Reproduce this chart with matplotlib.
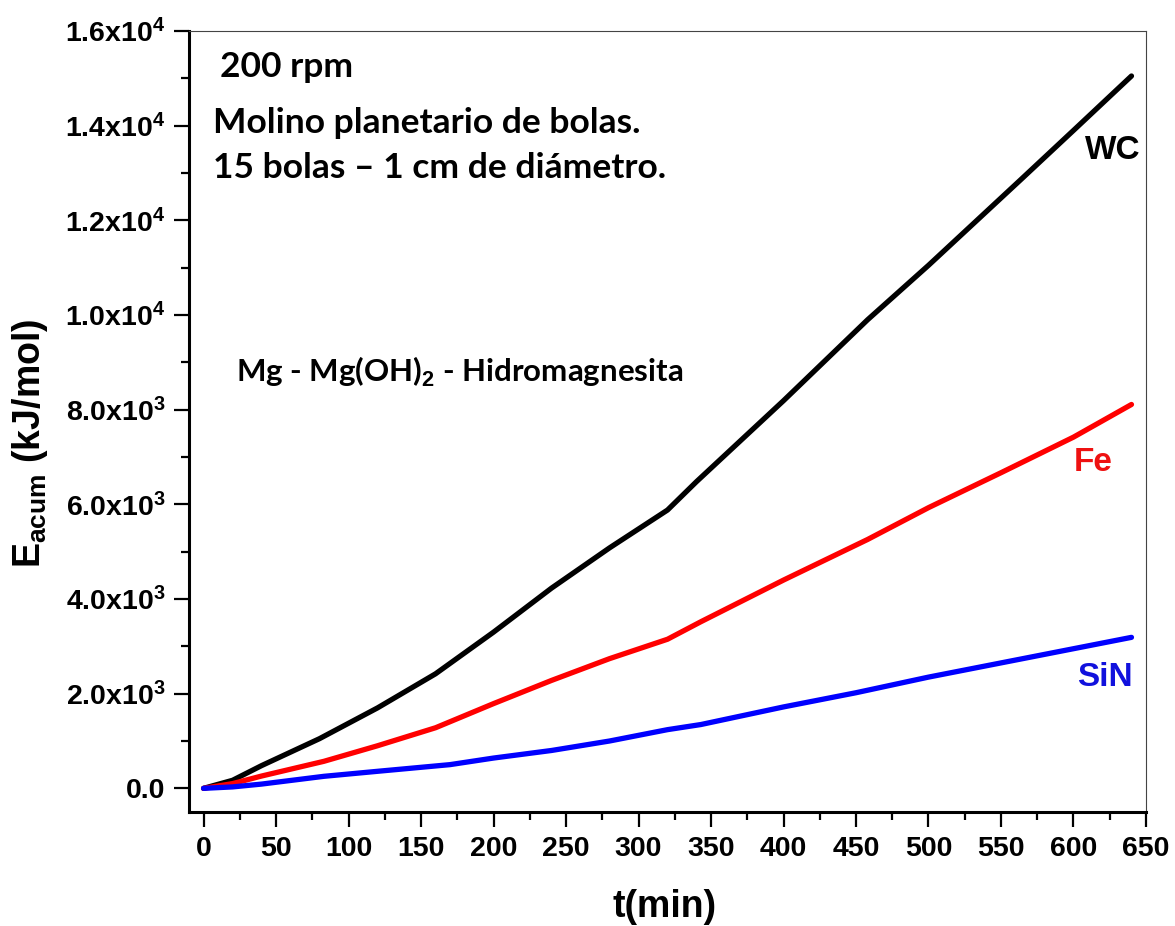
import matplotlib
matplotlib.use("Agg")
import matplotlib.pyplot as plt
from matplotlib.ticker import MultipleLocator, FuncFormatter

# ---------------------------------------------
# datos: energia acumulada vs tiempo de molienda
# ---------------------------------------------
t_wc = [0, 20, 40, 80, 120, 160, 200, 240, 280, 320, 340, 400, 458, 500, 564, 600, 640]
e_wc = [0, 170, 480, 1050, 1700, 2420, 3300, 4230, 5080, 5880, 6480, 8190, 9900, 11050, 12870, 13900, 15050]

t_fe = [0, 20, 40, 83, 120, 160, 200, 240, 280, 320, 343, 400, 458, 500, 550, 600, 640]
e_fe = [0, 100, 260, 571, 900, 1280, 1790, 2280, 2740, 3150, 3520, 4400, 5258, 5930, 6668, 7420, 8110]

t_sin = [0, 20, 40, 83, 120, 170, 200, 240, 280, 320, 343, 400, 450, 500, 550, 600, 640]
e_sin = [0, 30, 90, 254, 360, 501, 640, 800, 1000, 1240, 1348, 1720, 2020, 2350, 2650, 2950, 3190]

plt.rcParams['font.family'] = ['Liberation Sans', 'DejaVu Sans']
plt.rcParams['font.weight'] = 'bold'
plt.rcParams['mathtext.fontset'] = 'custom'
plt.rcParams['mathtext.rm'] = 'Liberation Sans:bold'
plt.rcParams['mathtext.it'] = 'Liberation Sans:bold'
plt.rcParams['mathtext.bf'] = 'Liberation Sans:bold'

fig = plt.figure(figsize=(11.75, 9.26), dpi=100)
ax = fig.add_axes([0.1609, 0.1231, 0.8144, 0.8434])

ax.plot(t_wc, e_wc, color='black', lw=3.8, solid_capstyle='round', solid_joinstyle='round')
ax.plot(t_fe, e_fe, color='#ff0000', lw=3.8, solid_capstyle='round', solid_joinstyle='round')
ax.plot(t_sin, e_sin, color='#0000ff', lw=3.8, solid_capstyle='round', solid_joinstyle='round')

ax.set_xlim(-10, 650)
ax.set_ylim(-500, 16000)

ax.xaxis.set_major_locator(MultipleLocator(50))
ax.xaxis.set_minor_locator(MultipleLocator(25))
ax.yaxis.set_major_locator(MultipleLocator(2000))
ax.yaxis.set_minor_locator(MultipleLocator(1000))


def fmt_y(v, pos):
    if v == 0:
        return '0.0'
    exp = 3 if v < 10000 else 4
    return f'{v / 10**exp:.1f}x10$^{{{exp}}}$'


ax.yaxis.set_major_formatter(FuncFormatter(fmt_y))

for side in ['left', 'bottom']:
    ax.spines[side].set_linewidth(2.2)
for side in ['top', 'right']:
    ax.spines[side].set_linewidth(0.8)
    ax.spines[side].set_color('#444444')

ax.tick_params(which='major', direction='out', length=11, width=1.6, labelsize=20.5, pad=6)
ax.tick_params(which='minor', direction='out', length=6, width=1.6)
ax.tick_params(top=False, right=False, which='both')
for lbl in ax.get_xticklabels() + ax.get_yticklabels():
    lbl.set_fontweight('bold')

ax.set_xlabel('t(min)', fontsize=27, fontweight='bold')
ax.xaxis.set_label_coords(0.497, -0.098)
ax.set_ylabel(r'E$_{\mathregular{acum}}$ (kJ/mol)', fontsize=27, fontweight='bold')
ax.yaxis.set_label_coords(-0.145, 0.472)

# textos dentro del grafico
txt_font = ['Lato', 'DejaVu Sans']
ax.text(0.032, 0.954, '200 rpm', transform=ax.transAxes, fontsize=25.5,
        fontweight='bold', family=txt_font, va='center', ha='left')
ax.text(0.025, 0.882, 'Molino planetario de bolas.', transform=ax.transAxes, fontsize=25.5,
        fontweight='bold', family=txt_font, va='center', ha='left')
ax.text(0.025, 0.8246, '15 bolas – 1 cm de diámetro.', transform=ax.transAxes, fontsize=25.5,
        fontweight='bold', family=txt_font, va='center', ha='left')
ax.text(0.049, 0.5634, 'Mg - Mg(OH)$_{2}$ - Hidromagnesita', transform=ax.transAxes, fontsize=22.5,
        fontweight='bold', family=txt_font, va='center', ha='left')

ax.text(646, 13480, 'WC', color='black', fontsize=24, fontweight='bold', ha='right', va='center')
ax.text(627, 6886, 'Fe', color='#ee1111', fontsize=24, fontweight='bold', ha='right', va='center')
ax.text(641, 2340, 'SiN', color='#1111dd', fontsize=24, fontweight='bold', ha='right', va='center')

fig.savefig('out.png', dpi=100)
